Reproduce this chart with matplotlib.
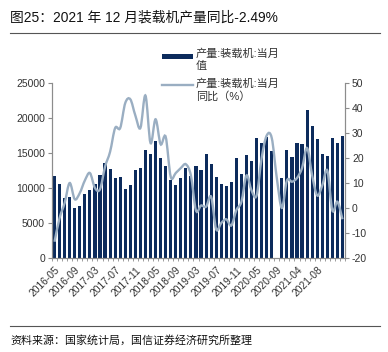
import numpy as np
import matplotlib
matplotlib.use('Agg')
import matplotlib.pyplot as plt
from matplotlib.path import Path
from matplotlib.patches import PathPatch, Rectangle
from matplotlib.lines import Line2D

plt.rcParams['font.family'] = ['Liberation Sans', 'Noto Sans CJK SC', 'DejaVu Sans']
plt.rcParams['axes.unicode_minus'] = False

# 当月产量（台），一月、二月无单独数据
output = [11760, 10570, 8620, 8760, 7190, 7470, 9090, 9710, 10610, 11850,
          13570, 12710, 11470, 11520, 9900, 10470, 12570, 12800, 15420, 14800,
          16760, 14280, 13140, 11140, 10420, 11380, 12800, 11710, 13140, 12570,
          14800, 13420, 11610, 10570, 10280, 10900, 14230, 12000, 14710, 13900,
          17090, 16370, 17300, 15330, np.nan, 11400, 15500, 14500, 16400, 16300,
          21100, 18900, 16950, 14850, 14600, 17100, 16500, 17400]
# 当月同比（%）
yoy = [-13.5, -4, 2, 10, 3.5, 6, 11, 14, 8, 7.5,
       16.5, 22.5, 32, 32, 42, 43.5, 37, 32, 45, 26,
       35.5, 25.5, 28.5, 12.5, 14, 16, 17.5, 13, -1, 1,
       0.5, 4.5, -8.5, -6, -4.5, -7, -0.8, 2.5, 13, 7,
       5, 20, 29, 28, 12, 0, 11, 10.5, 12, 16,
       24, 13, 5, 9, 15, -1, 2.5, -4.5]
tick_labels = ['2016-05', '2016-09', '2017-03', '2017-07', '2017-11', '2018-05',
               '2018-09', '2019-03', '2019-07', '2019-11', '2020-05', '2020-09',
               '2021-04', '2021-08']
legend_labels = ['产量:装载机:当月\n值', '产量:装载机:当月\n同比（%）']

navy = '#0c2b5c'
grayblue = '#9aaec2'
axcol = '#8c8c8c'
txtcol = '#333333'

fig = plt.figure(figsize=(3.88, 3.52), dpi=100)
ax = fig.add_axes([52/388, 1-258/352, 293/388, 175/352])
ax2 = ax.twinx()

x = np.arange(len(output))
ax.bar(x, output, width=0.62, color=navy, zorder=2)
ax.set_xlim(-0.5, len(output)-0.5)
ax.set_ylim(0, 25000)
ax.set_yticks(range(0, 25001, 5000))
ax.set_xticks(x[::4][:len(tick_labels)])
ax.set_xticklabels(tick_labels, rotation=45, ha='right', rotation_mode='anchor')
ax.set_xticks(np.arange(-0.5, len(output), 1), minor=True)
ax.tick_params(axis='x', which='major', length=0, pad=5, labelsize=7.4, labelcolor=txtcol)
ax.tick_params(axis='x', which='minor', length=2, color=axcol, width=0.6)
ax.tick_params(axis='y', length=3, color=axcol, width=0.8, labelsize=7.5, labelcolor=txtcol, pad=2)

# 平滑曲线（Catmull-Rom 转贝塞尔）
p = np.column_stack([x, yoy]).astype(float)
verts = [p[0]]
codes = [Path.MOVETO]
for i in range(len(p)-1):
    p0 = p[max(i-1, 0)]
    p1 = p[i]
    p2 = p[i+1]
    p3 = p[min(i+2, len(p)-1)]
    verts += [p1 + (p2-p0)/6, p2 - (p3-p1)/6, p2]
    codes += [Path.CURVE4]*3
ax2.add_patch(PathPatch(Path(verts, codes), fill=False, edgecolor=grayblue, lw=1.7, zorder=3))
ax2.set_ylim(-20, 50)
ax2.set_yticks(range(-20, 51, 10))
ax2.tick_params(axis='y', length=3, color=axcol, width=0.8, labelsize=7.5, labelcolor=txtcol, pad=2)

for a in (ax, ax2):
    a.spines['top'].set_visible(False)
    for s in ('left', 'right', 'bottom'):
        a.spines[s].set_color(axcol)
        a.spines[s].set_linewidth(0.8)

# 图例
fig.add_artist(Rectangle((162/388, 1-58.5/352), 31/388, 5/352, facecolor=navy,
                         edgecolor='none', transform=fig.transFigure))
fig.add_artist(Line2D([162/388, 193/388], [1-85/352, 1-85/352], color=grayblue, lw=1.7))
fig.text(196/388, 1-48/352, legend_labels[0], fontsize=8, va='top', ha='left',
         linespacing=1.35, color=txtcol)
fig.text(196/388, 1-78/352, legend_labels[1], fontsize=8, va='top', ha='left',
         linespacing=1.35, color=txtcol)

fig.text(10/388, 1-17/352, '图25：2021 年 12 月装载机产量同比-2.49%', fontsize=9.9,
         va='center', ha='left', color='#111111')
fig.add_artist(Line2D([10/388, 380/388], [1-33/352, 1-33/352], color='#555555', lw=0.8))
fig.add_artist(Line2D([10/388, 380/388], [1-326/352, 1-326/352], color='#555555', lw=0.8))
fig.text(10/388, 1-340/352, '资料来源：国家统计局，国信证券经济研究所整理', fontsize=7.9,
         va='center', ha='left', color='#111111')

fig.savefig('out.png', dpi=100)
